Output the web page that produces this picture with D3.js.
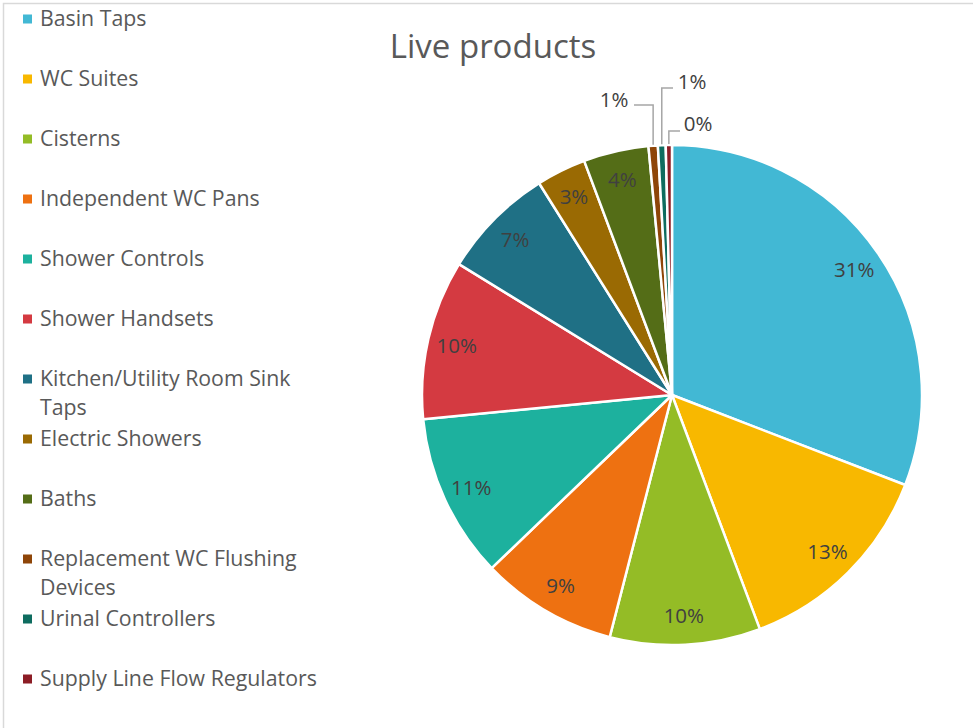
<!DOCTYPE html>
<html><head><meta charset="utf-8">
<script src="https://cdn.jsdelivr.net/npm/d3@7"></script>
<style>
html,body{margin:0;padding:0;background:#fff;}
svg{display:block;font-family:"Open Sans",Lato,sans-serif;}
</style></head>
<body><svg id="c" width="973" height="728"></svg>
<script>
const categories = ["Basin Taps","WC Suites","Cisterns","Independent WC Pans","Shower Controls","Shower Handsets","Kitchen/Utility Room Sink Taps","Electric Showers","Baths","Replacement WC Flushing Devices","Urinal Controllers","Supply Line Flow Regulators"];
const legendLines = [["Basin Taps"],["WC Suites"],["Cisterns"],["Independent WC Pans"],["Shower Controls"],["Shower Handsets"],["Kitchen/Utility Room Sink","Taps"],["Electric Showers"],["Baths"],["Replacement WC Flushing","Devices"],["Urinal Controllers"],["Supply Line Flow Regulators"]];
const values = [30.8,13.4,9.7,8.8,10.6,10.3,7.3,3.2,4.2,0.6,0.5,0.4];
const colors = ["#42B8D4","#F8B800","#94BC26","#EE7111","#1DB19E","#D43A41","#1F7085","#9A6A03","#546D17","#8E4508","#0E6C5F","#8C1D25"];
const title = "Live products";

const svg = d3.select("#c");
svg.append("rect").attr("x",3.5).attr("y",3.5).attr("width",1000).attr("height",1000)
  .attr("fill","none").attr("stroke","#d9d9d9").attr("stroke-width",1.5);

svg.append("text").attr("x",493).attr("y",58).attr("text-anchor","middle")
  .attr("font-size",33).attr("fill","#595959").text(title);

const cx=672, cy=395, R=250;
const total = d3.sum(values);
const pie = d3.pie().sort(null).value(d=>d)(values);
const arc = d3.arc().innerRadius(0).outerRadius(R);
const g = svg.append("g").attr("transform",`translate(${cx},${cy})`);
g.selectAll("path").data(pie).join("path")
  .attr("d",arc).attr("fill",(d,i)=>colors[i])
  .attr("stroke","#fff").attr("stroke-width",2.5).attr("stroke-linejoin","round");

const labelArc = d3.arc().innerRadius(221).outerRadius(221);
const pct = v => Math.round(v/total*100)+"%";
pie.forEach((d,i)=>{
  if(i>=9) return;
  const [x,y]=labelArc.centroid(d);
  g.append("text").attr("x",x).attr("y",y).attr("dy","0.35em").attr("text-anchor","middle")
    .attr("font-size",20.5).attr("fill","#404040").text(pct(values[i]));
});
const leaders = [
  {i:9, yTop:105, xEnd:634, tx:614, ty:100},
  {i:10, yTop:88, xEnd:673, tx:692, ty:82},
  {i:11, yTop:131, xEnd:680, tx:698, ty:124}
];
leaders.forEach(L=>{
  const d=pie[L.i];
  const a=(d.startAngle+d.endAngle)/2;
  const sx=cx+Math.sin(a)*R, sy=cy-Math.cos(a)*R;
  svg.append("polyline").attr("points",`${sx},${sy-1} ${sx},${L.yTop} ${L.xEnd},${L.yTop}`)
    .attr("fill","none").attr("stroke","#a6a6a6").attr("stroke-width",1.5);
  svg.append("text").attr("x",L.tx).attr("y",L.ty).attr("dy","0.35em").attr("text-anchor","middle")
    .attr("font-size",20.5).attr("fill","#404040").text(pct(values[L.i]));
});

const lg = svg.append("g");
categories.forEach((c,i)=>{
  const y=19+i*60;
  lg.append("rect").attr("x",23).attr("y",y-4.5).attr("width",9).attr("height",9).attr("fill",colors[i]);
  legendLines[i].forEach((t,j)=>{
    lg.append("text").attr("x",40).attr("y",y+j*29).attr("dy","0.35em")
      .attr("font-size",21.3).attr("fill","#595959").text(t);
  });
});
</script></body></html>
